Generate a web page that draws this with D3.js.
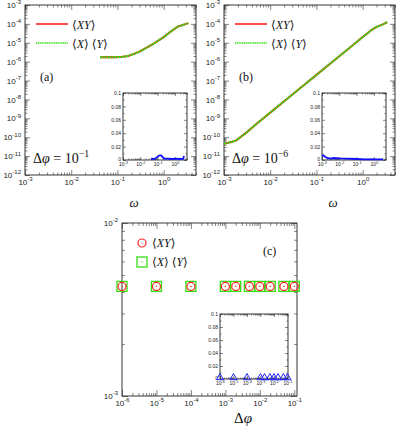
<!DOCTYPE html>
<html>
<head>
<meta charset="UTF-8">
<script src="https://cdnjs.cloudflare.com/ajax/libs/d3/7.8.5/d3.min.js"></script>
<style>
  body { margin: 0; background: #fff; }
  svg { display: block; }
  .tick text { font-family: "Liberation Sans", Arial, sans-serif; fill: #222; }
  .tick line { stroke: #333; stroke-width: 0.6; }
  .math { font-family: "Liberation Serif", "DejaVu Serif", serif; fill: #111; }
</style>
</head>
<body>
<div id="chart"></div>
<script>
// panel (a): delta phi = 1e-1
const omegaA = [0.042, 0.06, 0.09, 0.13, 0.17, 0.22, 0.3, 0.4, 0.55, 0.75, 1.0, 1.4, 2.0, 2.6, 3.4];
const xyA    = [1.7e-6, 1.75e-6, 1.7e-6, 1.8e-6, 2.0e-6, 2.5e-6, 3.4e-6, 5.0e-6, 7.8e-6, 1.25e-5, 2.0e-5, 3.8e-5, 7.2e-5, 8.7e-5, 1.1e-4];
const xprodA = [1.7e-6, 1.72e-6, 1.72e-6, 1.8e-6, 2.0e-6, 2.5e-6, 3.4e-6, 5.0e-6, 7.8e-6, 1.25e-5, 2.0e-5, 3.8e-5, 7.2e-5, 8.7e-5, 1.1e-4];
const omegaInsetA = [0.042, 0.06, 0.08, 0.1, 0.13, 0.16, 0.2, 0.25, 0.4, 0.7, 1.0, 2.0, 3.0, 3.4];
const diffA       = [0.002, 0.0015, 0.003, 0.005, 0.007, 0.007, 0.004, 0.002, 0.002, 0.0015, 0.002, 0.0015, 0.002, 0.006];

// panel (b): delta phi = 1e-6
const omegaB = [0.001, 0.0015, 0.0018, 0.003, 0.005, 0.01, 0.02, 0.05, 0.1, 0.2, 0.5, 1.0, 1.6, 2.0, 2.6, 3.4];
const xyB    = [4.5e-11, 5.8e-11, 6.6e-11, 1.7e-10, 5.0e-10, 2.0e-9, 8.0e-9, 5.0e-8, 2.0e-7, 8.0e-7, 5.0e-6, 2.0e-5, 5.0e-5, 7.0e-5, 8.8e-5, 1.25e-4];
const xprodB = [4.5e-11, 5.8e-11, 6.6e-11, 1.7e-10, 5.0e-10, 2.0e-9, 8.0e-9, 5.0e-8, 2.0e-7, 8.0e-7, 5.0e-6, 2.0e-5, 5.0e-5, 7.0e-5, 8.8e-5, 1.25e-4];
const omegaInsetB = [0.001, 0.0012, 0.0015, 0.002, 0.003, 0.005, 0.01, 0.03, 0.1, 0.3, 1.0, 3.4];
const diffB       = [0.006, 0.007, 0.005, 0.003, 0.002, 0.003, 0.0025, 0.002, 0.0015, 0.001, 0.001, 0.001];

// panel (c)
const dphi    = [1e-6, 1e-5, 1e-4, 1e-3, 2e-3, 5e-3, 1e-2, 2e-2, 5e-2, 1e-1];
const xyC     = [4.3e-3, 4.3e-3, 4.3e-3, 4.3e-3, 4.3e-3, 4.3e-3, 4.3e-3, 4.3e-3, 4.3e-3, 4.3e-3];
const xprodC  = [4.3e-3, 4.3e-3, 4.3e-3, 4.3e-3, 4.3e-3, 4.3e-3, 4.3e-3, 4.3e-3, 4.3e-3, 4.3e-3];
const diffC   = [0.0005, 0.0005, 0.0005, 0.0005, 0.0005, 0.0005, 0.0005, 0.0005, 0.0005, 0.0005];

const omegaTicks = [-3, -2, -1, 0];
const yTicksAB   = [-12, -11, -10, -9, -8, -7, -6, -5, -4, -3];
const dphiTicks  = [-6, -5, -4, -3, -2, -1];
const yTicksC    = [-3, -2];
const insetYTicks = [0, 0.02, 0.04, 0.06, 0.08, 0.1];

const svg = d3.select("#chart").append("svg").attr("width", 399).attr("height", 427);

function minors(lo, hi) {
  const out = [];
  for (let e = lo; e < hi; e++) for (let k = 2; k <= 9; k++) out.push(k * Math.pow(10, e));
  return out;
}

function powLabel(sel, fs, sup) {
  sel.each(function(d) {
    const t = d3.select(this).text(null);
    t.append("tspan").text("10");
    t.append("tspan").attr("dy", -fs * 0.45).attr("font-size", sup).text(Math.round(Math.log10(d)));
  });
}

// frame with inward ticks on all four sides
function logFrame(g, x, y, o) {
  const [x0, x1] = x.range(), [y1, y0] = y.range();
  const w = x1 - x0, h = y1 - y0;
  const xMaj = o.xTicks.map(e => Math.pow(10, e));
  const xMin = minors(o.xTicks[0] - 1, o.xTicks[o.xTicks.length - 1] + 1).filter(v => v >= x.domain()[0] && v <= x.domain()[1]);
  const yMaj = o.yLog ? o.yTicks.map(e => Math.pow(10, e)) : o.yTicks;
  const yMin = o.yLog ? minors(o.yTicks[0], o.yTicks[o.yTicks.length - 1]) : o.yMinor;

  const gb = g.append("g").attr("transform", `translate(0,${y1})`)
    .call(d3.axisBottom(x).tickValues(xMaj).tickSize(-o.maj).tickPadding(o.xpad || o.pad).tickFormat(d => d));
  gb.selectAll("text").attr("font-size", o.fs).call(powLabel, o.fs, o.sup);
  g.append("g").attr("transform", `translate(0,${y1})`)
    .call(d3.axisBottom(x).tickValues(xMin).tickSize(-o.min).tickFormat(""));
  g.append("g").attr("transform", `translate(0,${y0})`)
    .call(d3.axisTop(x).tickValues(xMaj).tickSize(-o.maj).tickFormat(""));
  g.append("g").attr("transform", `translate(0,${y0})`)
    .call(d3.axisTop(x).tickValues(xMin).tickSize(-o.min).tickFormat(""));

  const gl = g.append("g").attr("transform", `translate(${x0},0)`)
    .call(d3.axisLeft(y).tickValues(yMaj).tickSize(-o.maj).tickPadding(o.pad).tickFormat(d => d));
  gl.selectAll("text").attr("font-size", o.fs);
  if (o.yLog) gl.selectAll("text").call(powLabel, o.fs, o.sup);
  else gl.selectAll("text").attr("dy", d => d === 0 ? "0" : "0.32em");
  g.append("g").attr("transform", `translate(${x0},0)`)
    .call(d3.axisLeft(y).tickValues(yMin).tickSize(-o.min).tickFormat(""));
  g.append("g").attr("transform", `translate(${x1},0)`)
    .call(d3.axisRight(y).tickValues(yMaj).tickSize(-o.maj).tickFormat(""));
  g.append("g").attr("transform", `translate(${x1},0)`)
    .call(d3.axisRight(y).tickValues(yMin).tickSize(-o.min).tickFormat(""));

  g.selectAll(".domain").remove();
  g.append("rect").attr("x", x0).attr("y", y0).attr("width", w).attr("height", h)
    .attr("fill", "none").attr("stroke", "#222").attr("stroke-width", 0.9);
}

function mathText(x, y, size, parts, anchor) {
  const t = svg.append("text").attr("class", "math").attr("x", x).attr("y", y)
    .attr("font-size", size).attr("text-anchor", anchor || "start");
  parts.forEach(p => {
    const s = t.append("tspan").text(p.t);
    if (p.i) s.attr("font-style", "italic");
    if (p.up) s.attr("dy", -size * 0.4).attr("font-size", size * 0.7);
  });
  return t;
}

function omegaPanel(ox, omega, xy, xprod, om2, diff, tag, dExp) {
  const x = d3.scaleLog().domain([1e-3, 5]).range([ox + 25, ox + 196]);
  const y = d3.scaleLog().domain([1e-12, 1e-3]).range([175, 5]);
  const g = svg.append("g");
  logFrame(g, x, y, { xTicks: omegaTicks, yTicks: yTicksAB, yLog: true, maj: 5, min: 2.5, pad: 4, fs: 8, sup: 6 });

  const line = d3.line().x(d => x(d[0])).y(d => y(d[1]));
  g.append("path").datum(d3.zip(omega, xy)).attr("d", line)
    .attr("fill", "none").attr("stroke", "#ff2222").attr("stroke-width", 2);
  g.append("path").datum(d3.zip(omega, xprod)).attr("d", line)
    .attr("fill", "none").attr("stroke", "#33dd11").attr("stroke-width", 2).attr("stroke-dasharray", "2,0.6");

  // legend
  g.append("line").attr("x1", ox + 36).attr("x2", ox + 68).attr("y1", 24).attr("y2", 24)
    .attr("stroke", "#ff2222").attr("stroke-width", 1.6);
  g.append("line").attr("x1", ox + 36).attr("x2", ox + 68).attr("y1", 43).attr("y2", 43)
    .attr("stroke", "#33dd11").attr("stroke-width", 1.6).attr("stroke-dasharray", "1.2,0.6");
  mathText(ox + 72, 28.5, 12, [{ t: "⟨" }, { t: "XY", i: 1 }, { t: "⟩" }]);
  mathText(ox + 72, 47.5, 12, [{ t: "⟨" }, { t: "X", i: 1 }, { t: "⟩ ⟨" }, { t: "Y", i: 1 }, { t: "⟩" }]);
  mathText(ox + 40, 81, 12, [{ t: tag }]);
  mathText(ox + 33, 163, 14, [{ t: "Δ" }, { t: "φ", i: 1 }, { t: " = 10" }, { t: dExp, up: 1 }]);
  mathText(ox + 134, 207, 13, [{ t: "ω", i: 1 }], "middle");

  // inset
  const ix = d3.scaleLog().domain([1e-3, 5]).range([ox + 123, ox + 187]);
  const iy = d3.scaleLinear().domain([0, 0.1]).range([160, 93]);
  const gi = g.append("g");
  gi.append("rect").attr("x", ox + 123).attr("y", 93).attr("width", 64).attr("height", 67).attr("fill", "#fff");
  logFrame(gi, ix, iy, { xTicks: omegaTicks, yTicks: insetYTicks, yLog: false, yMinor: d3.range(0.01, 0.1, 0.02),
    maj: 3, min: 1.5, pad: 2, xpad: 2.5, fs: 5, sup: 3.8 });
  gi.append("path").datum(d3.zip(om2, diff))
    .attr("d", d3.line().x(d => ix(d[0])).y(d => iy(d[1])))
    .attr("fill", "none").attr("stroke", "#1010ff").attr("stroke-width", 1.8);
}

omegaPanel(0, omegaA, xyA, xprodA, omegaInsetA, diffA, "(a)", "−1");
omegaPanel(199, omegaB, xyB, xprodB, omegaInsetB, diffB, "(b)", "−6");

// panel (c)
{
  const x = d3.scaleLog().domain([1e-6, 0.12]).range([122, 297]);
  const y = d3.scaleLog().domain([1e-3, 1e-2]).range([396, 223]);
  const g = svg.append("g");
  logFrame(g, x, y, { xTicks: dphiTicks, yTicks: yTicksC, yLog: true, maj: 6, min: 3, pad: 4, fs: 8, sup: 6 });

  const pts = d3.zip(dphi, xprodC, xyC);
  g.selectAll(".sq").data(pts).join("rect")
    .attr("x", d => x(d[0]) - 5).attr("y", d => y(d[1]) - 5).attr("width", 10).attr("height", 10)
    .attr("fill", "none").attr("stroke", "#33dd11").attr("stroke-width", 1.3);
  g.selectAll(".sqd").data(pts).join("circle")
    .attr("cx", d => x(d[0])).attr("cy", d => y(d[1])).attr("r", 0.7).attr("fill", "#33dd11");
  g.selectAll(".ci").data(pts).join("circle")
    .attr("cx", d => x(d[0])).attr("cy", d => y(d[2])).attr("r", 4)
    .attr("fill", "none").attr("stroke", "#ff2222").attr("stroke-width", 1.2);
  g.selectAll(".cid").data(pts).join("circle")
    .attr("cx", d => x(d[0])).attr("cy", d => y(d[2])).attr("r", 0.6).attr("fill", "#ff2222");

  // legend
  g.append("circle").attr("cx", 142).attr("cy", 243).attr("r", 4).attr("fill", "none").attr("stroke", "#ff2222").attr("stroke-width", 1.2);
  g.append("circle").attr("cx", 142).attr("cy", 243).attr("r", 0.6).attr("fill", "#ff2222");
  g.append("rect").attr("x", 137).attr("y", 257).attr("width", 10).attr("height", 10).attr("fill", "none").attr("stroke", "#33dd11").attr("stroke-width", 1.3);
  g.append("circle").attr("cx", 142).attr("cy", 262).attr("r", 0.7).attr("fill", "#33dd11");
  mathText(152, 247, 12, [{ t: "⟨" }, { t: "XY", i: 1 }, { t: "⟩" }]);
  mathText(152, 266, 12, [{ t: "⟨" }, { t: "X", i: 1 }, { t: "⟩ ⟨" }, { t: "Y", i: 1 }, { t: "⟩" }]);
  mathText(263, 255, 12, [{ t: "(c)" }]);
  mathText(243, 423, 15, [{ t: "Δ" }, { t: "φ", i: 1 }], "middle");

  // inset
  const ix = d3.scaleLog().domain([1e-6, 0.11]).range([220, 288]);
  const iy = d3.scaleLinear().domain([0, 0.1]).range([379, 314]);
  const gi = g.append("g");
  logFrame(gi, ix, iy, { xTicks: dphiTicks, yTicks: insetYTicks, yLog: false, yMinor: d3.range(0.01, 0.1, 0.02),
    maj: 3, min: 1.5, pad: 2, xpad: 2.5, fs: 5, sup: 3.8 });
  gi.selectAll(".tri").data(d3.zip(dphi, diffC)).join("path")
    .attr("transform", d => `translate(${ix(d[0])},${iy(d[1]) - 1})`)
    .attr("d", d3.symbol(d3.symbolTriangle, 22))
    .attr("fill", "none").attr("stroke", "#2222ff").attr("stroke-width", 1);
}
</script>
</body>
</html>
